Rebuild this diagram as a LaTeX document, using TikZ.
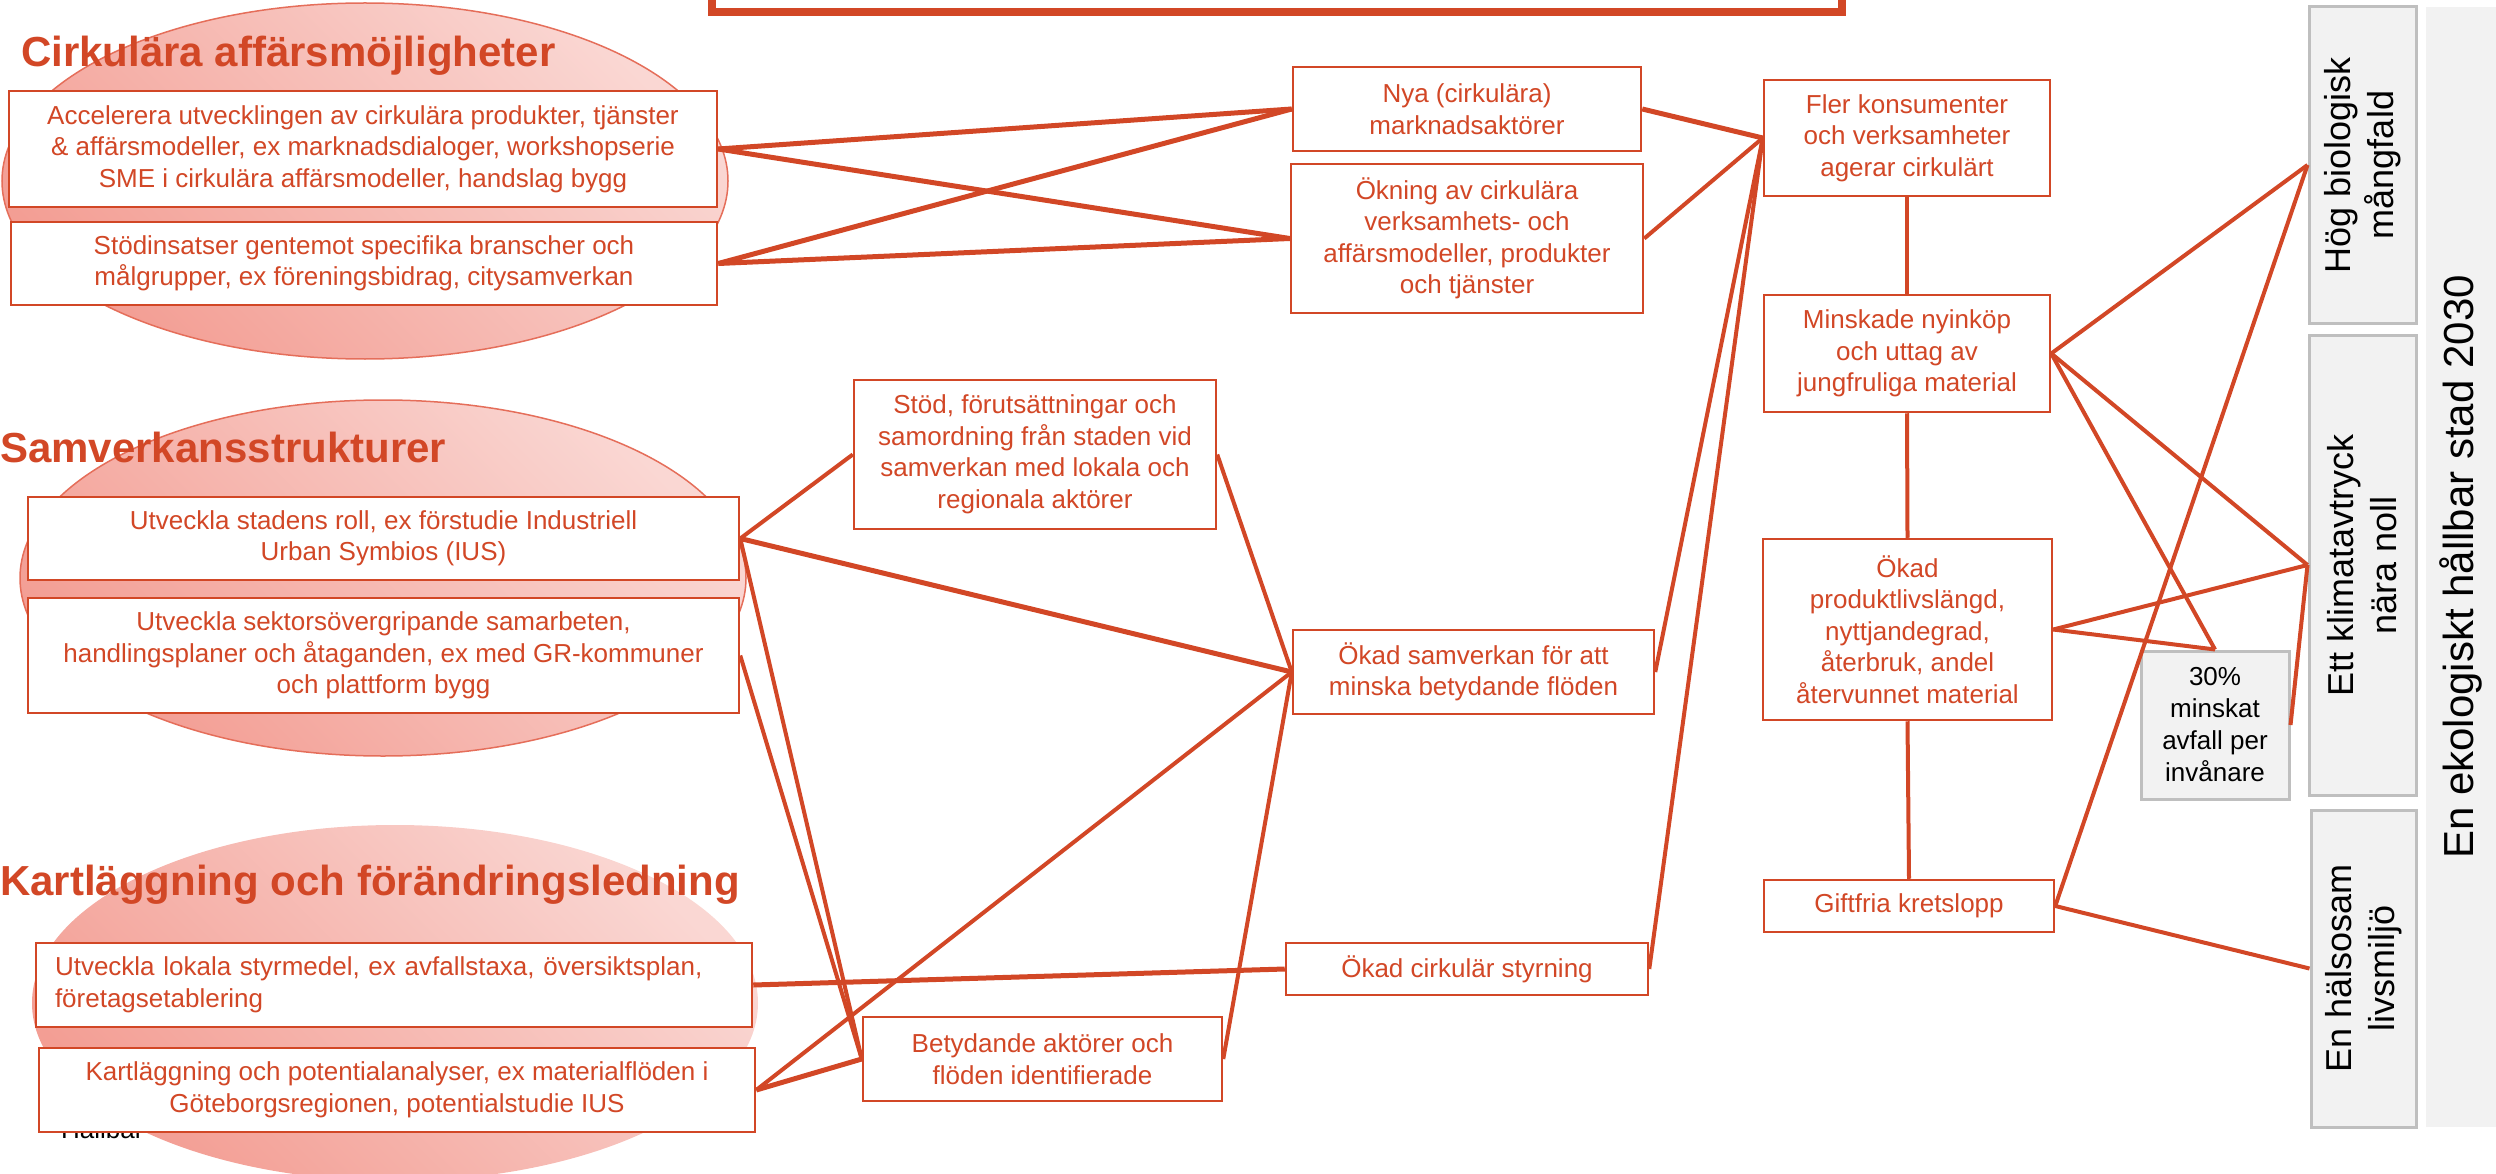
\documentclass[tikz,border=0pt]{standalone}
\usepackage{fontspec}
\setmainfont{Liberation Sans}
\definecolor{org}{RGB}{210,71,38}
\definecolor{pinkL}{RGB}{250,215,211}
\definecolor{pinkD}{RGB}{243,158,148}
\definecolor{pinkE}{RGB}{229,110,90}
\definecolor{gfill}{RGB}{242,242,242}
\definecolor{gline}{RGB}{191,191,191}
\tikzset{
  box/.style={draw=org, line width=2.5pt, fill=white, text=org, align=center,
    font=\fontsize{26}{31.5}\selectfont, inner sep=0pt},
  conn/.style={draw=org, line width=4pt},
  tconn/.style={draw=org, line width=5pt},
  gbox/.style={draw=gline, line width=3pt, fill=gfill, text=black, align=center,
    rotate=90, font=\fontsize{36}{43}\selectfont, inner sep=0pt},
  oval/.style={draw=pinkE, line width=1.5pt, top color=pinkL, bottom color=pinkD, shading angle=-45},
  softoval/.style={top color=pinkL, bottom color=pinkD, shading angle=-45},
  head/.style={text=org, font=\fontsize{42}{50}\selectfont\bfseries, anchor=base west, inner sep=0pt}
}
\begin{document}
\begin{tikzpicture}[x=1pt,y=-1pt]
\useasboundingbox (0,0) rectangle (2496,1174);
\clip (0,0) rectangle (2496,1174);
% ovals
\path[oval] (365,181) ellipse [x radius=363pt, y radius=178pt];
\path[oval] (383,578) ellipse [x radius=363pt, y radius=178pt];
\path[softoval] (395,1003) ellipse [x radius=363pt, y radius=178pt];
% headings
\node[head] (h1) at (21,67) {Cirkulära affärsmöjligheter};
\node[head] (h2) at (0,462) {Samverkansstrukturer};
\node[head] (h3) at (0,895) {Kartläggning och förändringsledning};
\node[anchor=base west, inner sep=0pt, font=\fontsize{26}{31.5}\selectfont, text=black] (hb) at (61,1138) {Hållbar};
% top box
\node[draw=org, line width=8pt, fill=white, minimum width=1130pt, minimum height=60pt, inner sep=0pt] (topbox) at (1277,-18) {};
% left boxes
\node[box, minimum width=708pt, minimum height=116pt] (a1) at (363,149) {Accelerera utvecklingen av cirkulära produkter, tjänster\\\& affärsmodeller, ex marknadsdialoger, workshopserie\\SME i cirkulära affärsmodeller, handslag bygg};
\node[box, minimum width=706pt, minimum height=83pt] (a2) at (364,263.5) {Stödinsatser gentemot specifika branscher och\\målgrupper, ex föreningsbidrag, citysamverkan};
\node[box, minimum width=711pt, minimum height=83pt] (s1) at (383.5,538.5) {Utveckla stadens roll, ex förstudie Industriell\\Urban Symbios (IUS)};
\node[box, minimum width=711pt, minimum height=115pt] (s2) at (383.5,655.5) {Utveckla sektorsövergripande samarbeten,\\handlingsplaner och åtaganden, ex med GR-kommuner\\och plattform bygg};
\node[box, text width=678pt, inner xsep=19pt, minimum height=84pt, align=left] (k1) at (394,985) {Utveckla lokala styrmedel, ex avfallstaxa, översiktsplan,\\företagsetablering};
\node[box, minimum width=716pt, minimum height=84pt] (k2) at (397,1090) {Kartläggning och potentialanalyser, ex materialflöden i\\Göteborgsregionen, potentialstudie IUS};
% middle boxes
\node[box, minimum width=362pt, minimum height=149pt] (stod) at (1035,454.5) {Stöd, förutsättningar och\\samordning från staden vid\\samverkan med lokala och\\regionala aktörer};
\node[box, minimum width=359pt, minimum height=84pt] (bet) at (1042.5,1059) {Betydande aktörer och\\flöden identifierade};
\node[box, minimum width=348pt, minimum height=84pt] (m1) at (1467,109) {Nya (cirkulära)\\marknadsaktörer};
\node[box, minimum width=352pt, minimum height=149pt] (m2) at (1467,238.5) {Ökning av cirkulära\\verksamhets- och\\affärsmodeller, produkter\\och tjänster};
\node[box, minimum width=361pt, minimum height=84pt] (samv) at (1473.5,672) {Ökad samverkan för att\\minska betydande flöden};
\node[box, minimum width=362pt, minimum height=52pt] (styr) at (1467,969) {Ökad cirkulär styrning};
% right column
\node[box, minimum width=286pt, minimum height=116pt] (r1) at (1907,138) {Fler konsumenter\\och verksamheter\\agerar cirkulärt};
\node[box, minimum width=286pt, minimum height=117pt] (r2) at (1907,353.5) {Minskade nyinköp\\och uttag av\\jungfruliga material};
\node[box, minimum width=289pt, minimum height=181pt] (r3) at (1907.5,629.5) {Ökad\\produktlivslängd,\\nyttjandegrad,\\återbruk, andel\\återvunnet material};
\node[box, minimum width=290pt, minimum height=52pt] (r4) at (1909,906) {Giftfria kretslopp};
\node[draw=gline, line width=3pt, fill=gfill, text=black, align=center, inner sep=0pt,
  font=\fontsize{26}{32}\selectfont, minimum width=148pt, minimum height=148pt] (p30) at (2215,725) {30\%\\minskat\\avfall per\\invånare};
% goal boxes
\node[gbox, minimum width=316pt, minimum height=107pt] (g1) at (2362.5,165) {Hög biologisk\\mångfald};
\node[gbox, minimum width=460pt, minimum height=107pt] (g2) at (2362.5,565) {Ett klimatavtryck\\nära noll};
\node[gbox, minimum width=317pt, minimum height=105pt] (g3) at (2363.5,968.5) {En hälsosam\\livsmiljö};
\node[fill=gfill, rotate=90, inner sep=0pt, minimum width=1120pt, minimum height=70pt,
  font=\fontsize{42}{50}\selectfont, text=black] (big) at (2461,567) {En ekologiskt hållbar stad 2030};
% connectors
\draw[tconn] (a1.east) -- (m1.west);
\draw[tconn] (a1.east) -- (m2.west);
\draw[tconn] (a2.east) -- (m1.west);
\draw[tconn] (a2.east) -- (m2.west);
\draw[tconn] (m1.east) -- (r1.west);
\draw[conn] (m2.east) -- (r1.west);
\draw[conn] (s1.east) -- (stod.west);
\draw[tconn] (s1.east) -- (samv.west);
\draw[conn] (s1.east) -- (bet.west);
\draw[conn] (s2.east) -- (bet.west);
\draw[conn] (stod.east) -- (samv.west);
\draw[tconn] (k1.east) -- (styr.west);
\draw[tconn] (k2.east) -- (bet.west);
\draw[conn] (k2.east) -- (samv.west);
\draw[conn] (bet.east) -- (samv.west);
\draw[conn] (samv.east) -- (r1.west);
\draw[conn] (styr.east) -- (r1.west);
\draw[conn] (r1.south) -- (r2.north);
\draw[conn] (r2.south) -- (r3.north);
\draw[conn] (r3.south) -- (r4.north);
\draw[conn] (r2.east) -- (g1.north);
\draw[conn] (r2.east) -- (g2.north);
\draw[conn] (r2.east) -- (p30.north);
\draw[conn] (r3.east) -- (g2.north);
\draw[conn] (r3.east) -- (p30.north);
\draw[conn] (p30.east) -- (g2.north);
\draw[conn] (r4.east) -- (g1.north);
\draw[conn] (r4.east) -- (g3.north);
\end{tikzpicture}
\end{document}
